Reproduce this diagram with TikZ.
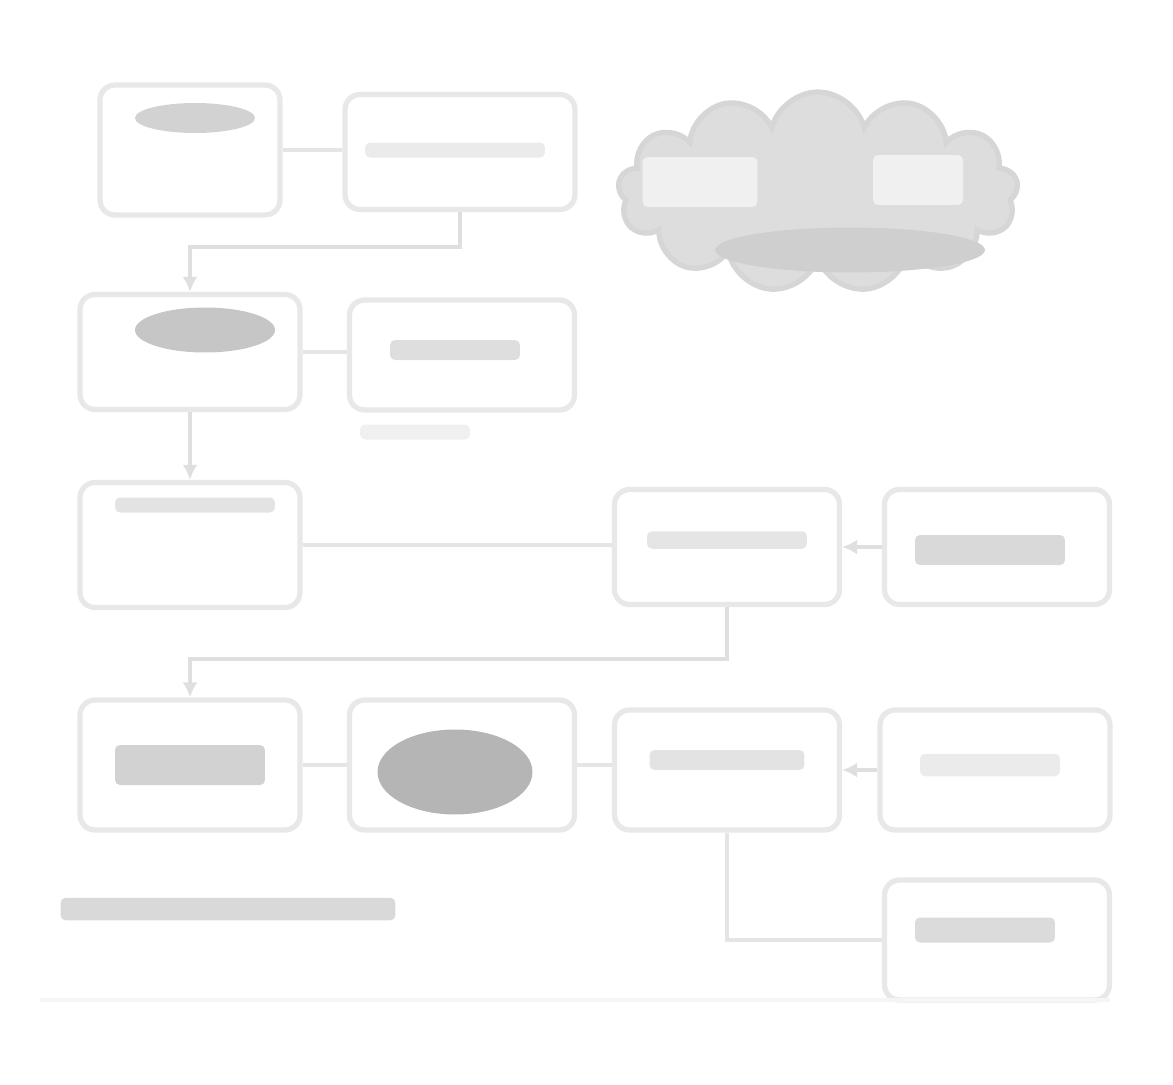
\documentclass[tikz,border=0pt]{standalone}
\usetikzlibrary{arrows.meta}
\usetikzlibrary{positioning,shapes.symbols,shapes.geometric,fit}
\tikzset{
	boxnode/.style={rectangle, rounded corners=3mm, draw=gray!18, line width=3pt, minimum width=4.4cm, minimum height=2.4cm},
	textbar/.style={rectangle, rounded corners=1mm, fill=gray!22, inner sep=0pt},
	darkbar/.style={ellipse, fill=gray!45, inner sep=0pt},
	myline/.style = {draw=gray!20, line width = 2.5pt},
	myarrow/.style = {-{Latex[length=3mm,width=3mm]}, draw=gray!25, line width = 2.5pt}
}

\begin{document}
\begin{tikzpicture}[x=0.02cm, y=-0.02cm]
		\useasboundingbox (0,0) rectangle (1173,1085);
		% row 1
		\node[boxnode, minimum width=3.6cm, minimum height=2.6cm] at (190,150) (A)     {};
		\node[boxnode, minimum width=4.6cm, minimum height=2.3cm] at (460,152) (B)     {};
		\node[cloud, cloud puffs=13, aspect=2.2, fill=gray!27, draw=gray!32, line width=3pt, minimum width=8cm, minimum height=4cm] at (818,192) (P)     {};
		% row 2
		\node[boxnode, minimum height=2.3cm] at (190,352) (C)     {};
		\node[boxnode, minimum width=4.5cm, minimum height=2.2cm] at (462,355) (D)     {};
		% row 3
		\node[boxnode, minimum height=2.5cm] at (190,545) (E)     {};
		\node[boxnode, minimum width=4.5cm, minimum height=2.3cm] at (727,547) (F)     {};
		\node[boxnode, minimum width=4.5cm, minimum height=2.3cm] at (997,547) (G)     {};
		% row 4
		\node[boxnode, minimum height=2.6cm] at (190,765) (H)     {};
		\node[boxnode, minimum width=4.5cm, minimum height=2.6cm] at (462,765) (I)     {};
		\node[boxnode, minimum width=4.5cm] at (727,770) (J)     {};
		\node[boxnode, minimum width=4.6cm] at (995,770) (K)     {};
		\node[boxnode, minimum width=4.5cm] at (997,940) (L)     {};

		% smudged labels
		\node[darkbar, fill=gray!35, minimum width=2.4cm, minimum height=0.6cm] at (195,118) (tA) {};
		\node[textbar, fill=gray!16, minimum width=3.6cm, minimum height=0.3cm] at (455,150) (tB) {};
		\node[textbar, fill=gray!12, minimum width=2.3cm, minimum height=1cm] at (700,182) (tP1) {};
		\node[textbar, fill=gray!12, minimum width=1.8cm, minimum height=1cm] at (918,180) (tP2) {};
		\node[darkbar, fill=gray!38, minimum width=5.4cm, minimum height=0.9cm] at (850,250) (tP3) {};
		\node[darkbar, minimum width=2.8cm, minimum height=0.9cm] at (205,330) (tC) {};
		\node[textbar, fill=gray!26, minimum width=2.6cm, minimum height=0.4cm] at (455,350) (tD) {};
		\node[textbar, fill=gray!12, minimum width=2.2cm, minimum height=0.3cm] at (415,432) (uD) {};
		\node[textbar, fill=gray!22, minimum width=3.2cm, minimum height=0.3cm] at (195,505) (tE) {};
		\node[textbar, fill=gray!20, minimum width=3.2cm, minimum height=0.35cm] at (727,540) (tF) {};
		\node[textbar, fill=gray!30, minimum width=3cm, minimum height=0.6cm] at (990,550) (tG) {};
		\node[textbar, fill=gray!35, minimum width=3cm, minimum height=0.8cm] at (190,765) (tH) {};
		\node[darkbar, fill=gray!58, minimum width=3.1cm, minimum height=1.7cm] at (455,772) (tI) {};
		\node[textbar, fill=gray!22, minimum width=3.1cm, minimum height=0.4cm] at (727,760) (tJ) {};
		\node[textbar, fill=gray!16, minimum width=2.8cm, minimum height=0.45cm] at (990,765) (tK) {};
		\node[textbar, fill=gray!28, minimum width=2.8cm, minimum height=0.5cm] at (985,930) (tL) {};
		\node[textbar, fill=gray!30, minimum width=6.7cm, minimum height=0.45cm] at (228,909) (cap) {};

		%Lines
		\draw[myline] (A.east) -- (A.east -| B.west);
		\draw[myline] (C.east) -- (C.east -| D.west);
		\draw[myline] (E.east) -- (E.east -| F.west);
		\draw[myarrow] (G.west) -- (F.east);
		\draw[myline] (H.east) -- (H.east -| I.west);
		\draw[myline] (I.east) -- (I.east -| J.west);
		\draw[myarrow] (K.west) -- (J.east);
		\draw[myarrow] (B.south) -- ++(0,35) -| (C.north);
		\draw[myarrow] (C.south) -- (E.north);
		\draw[myarrow] (F.south) -- ++(0,52) -| (H.north);
		\draw[myline] (J.south) |- (L.west);
		\draw[draw=gray!8, line width=2pt] (40,1000) coordinate (r1) -- (1110,1000) coordinate (r2);
	\end{tikzpicture}
\end{document}
